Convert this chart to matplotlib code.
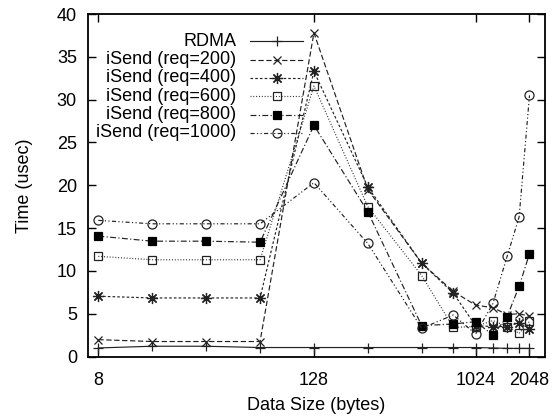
import matplotlib
matplotlib.use("Agg")
import matplotlib.pyplot as plt
from matplotlib.ticker import FixedLocator, FixedFormatter, NullLocator

plt.rcParams["font.family"] = ["Liberation Sans", "DejaVu Sans"]

# message sizes (bytes)
sizes = [8, 16, 32, 64, 128, 256, 512, 768, 1024, 1280, 1536, 1792, 2048]

rdma = [1.0, 1.2, 1.2, 1.05, 1.05, 1.05, 1.05, 1.05, 1.05, 1.0, 0.95, 0.95, 0.95]
req200 = [1.97, 1.75, 1.75, 1.75, 37.8, 19.5, 10.9, 7.6, 6.0, 5.7, 4.9, 5.0, 4.7]
req400 = [7.04, 6.84, 6.84, 6.84, 33.3, 19.8, 10.9, 7.4, 3.6, 3.5, 3.5, 3.96, 3.2]
req600 = [11.7, 11.3, 11.3, 11.3, 31.6, 17.5, 9.45, 3.4, 3.5, 4.2, 3.5, 2.7, 4.1]
req800 = [14.06, 13.47, 13.47, 13.35, 27.0, 16.9, 3.6, 3.8, 4.07, 2.5, 4.66, 8.2, 12.0]
req1000 = [15.9, 15.5, 15.5, 15.5, 20.3, 13.2, 3.3, 4.85, 2.63, 6.2, 11.7, 16.3, 30.5]

labels = ["RDMA", "iSend (req=200)", "iSend (req=400)", "iSend (req=600)",
          "iSend (req=800)", "iSend (req=1000)"]

xticks = [8, 128, 1024, 2048]
xticklabels = ["8", "128", "1024", "2048"]

fig = plt.figure(figsize=(5.58, 4.16), dpi=100)
ax = fig.add_axes([0.1577, 0.143, 0.819, 0.8233])

c = "#222222"
lw = 0.85
styles = [
    dict(ls="-", marker="+", ms=7),
    dict(ls=(0, (4.5, 2.2)), marker="x", ms=6),
    dict(ls=(0, (2.2, 1.8)), marker=(8, 2, 0), ms=8),
    dict(ls=(0, (0.8, 1.6)), marker="s", ms=6, mfc="none"),
    dict(ls=(0, (5, 2, 1, 2)), marker="s", ms=6, mfc="black", mec="black"),
    dict(ls=(0, (3.5, 2, 1, 2, 1, 2)), marker="o", ms=6.5, mfc="none"),
]
series = [rdma, req200, req400, req600, req800, req1000]

for ys, st in zip(series, styles):
    ax.plot(sizes, ys, color=c, lw=lw, mew=0.9, **st)

ax.set_xscale("log", base=2)
ax.set_xlim(7, 2500)
ax.set_ylim(0, 40)
ax.xaxis.set_major_locator(FixedLocator(xticks))
ax.xaxis.set_major_formatter(FixedFormatter(xticklabels))
ax.xaxis.set_minor_locator(NullLocator())
ax.set_yticks(range(0, 41, 5))

ax.tick_params(axis="both", which="major", direction="in", length=6, width=1,
               top=True, right=True, labelsize=13)
ax.tick_params(axis="x", pad=11)
ax.tick_params(axis="y", pad=8)
for s in ax.spines.values():
    s.set_linewidth(1.3)

ax.set_xlabel("Data Size (bytes)", fontsize=13, labelpad=6)
ax.set_ylabel("Time (usec)", fontsize=13, labelpad=17)

# gnuplot-style key: right-aligned text, sample line to the right
tx, lx0, lx1 = 0.3239, 0.3545, 0.4705
y0, dy = 0.92, 0.0534
for i, (lab, st) in enumerate(zip(labels, styles)):
    yy = y0 - i * dy
    ax.text(tx, yy, lab, transform=ax.transAxes, ha="right", va="center", fontsize=13)
    line_st = {k: v for k, v in st.items() if k not in ("marker", "ms", "mfc", "mec")}
    ax.plot([lx0, lx1], [yy, yy], transform=ax.transAxes, color=c, lw=lw, **line_st)
    mk_st = {k: v for k, v in st.items() if k != "ls"}
    ax.plot([(lx0 + lx1) / 2], [yy], transform=ax.transAxes, color=c, mew=0.9,
            ls="none", **mk_st)

fig.savefig("out.png", dpi=100)
